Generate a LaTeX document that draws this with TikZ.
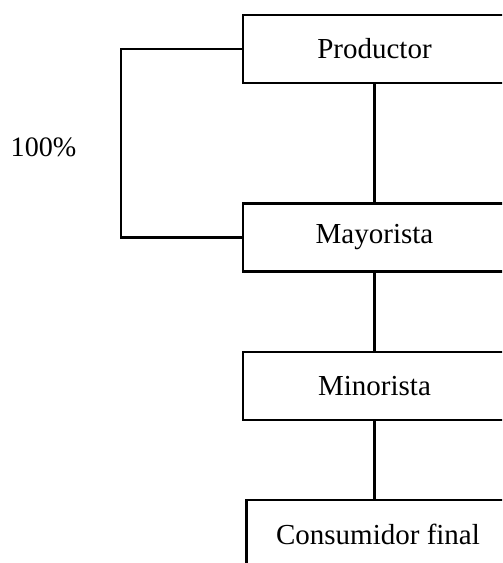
\documentclass[tikz,border=0pt]{standalone}
\usepackage{fontspec}
\setmainfont{Liberation Serif}
\usepackage{tikz}

\begin{document}
\begin{tikzpicture}[box/.style={draw, line width=1.4pt, minimum width=5.26cm, minimum height=1.36cm, font=\fontsize{16.5}{20}\selectfont}]
    \useasboundingbox (0,0) rectangle (10.04,11.26);
    \clip (0,0) rectangle (10.04,11.26);
    \node[box] (prod) at (7.49,10.28) {Productor};
    \node[box] (may) at (7.49,6.51) {Mayorista};
    \node[box] (min) at (7.49,3.54) {Minorista};
    \node[box] (cons) at (7.56,0.58) {Consumidor final};
    \draw[line width=1.4pt] (prod.south) -- (may.north);
    \draw[line width=1.4pt] (may.south) -- (min.north);
    \draw[line width=1.4pt] (min.south) -- (cons.north -| min.south);
    \draw[line width=1.4pt] (prod.west) -- ++(-2.42,0) |- (may.west);
    \node[font=\fontsize{16}{20}\selectfont] (pct) at (0.87,8.32) {100\%};
\end{tikzpicture}
\end{document}
